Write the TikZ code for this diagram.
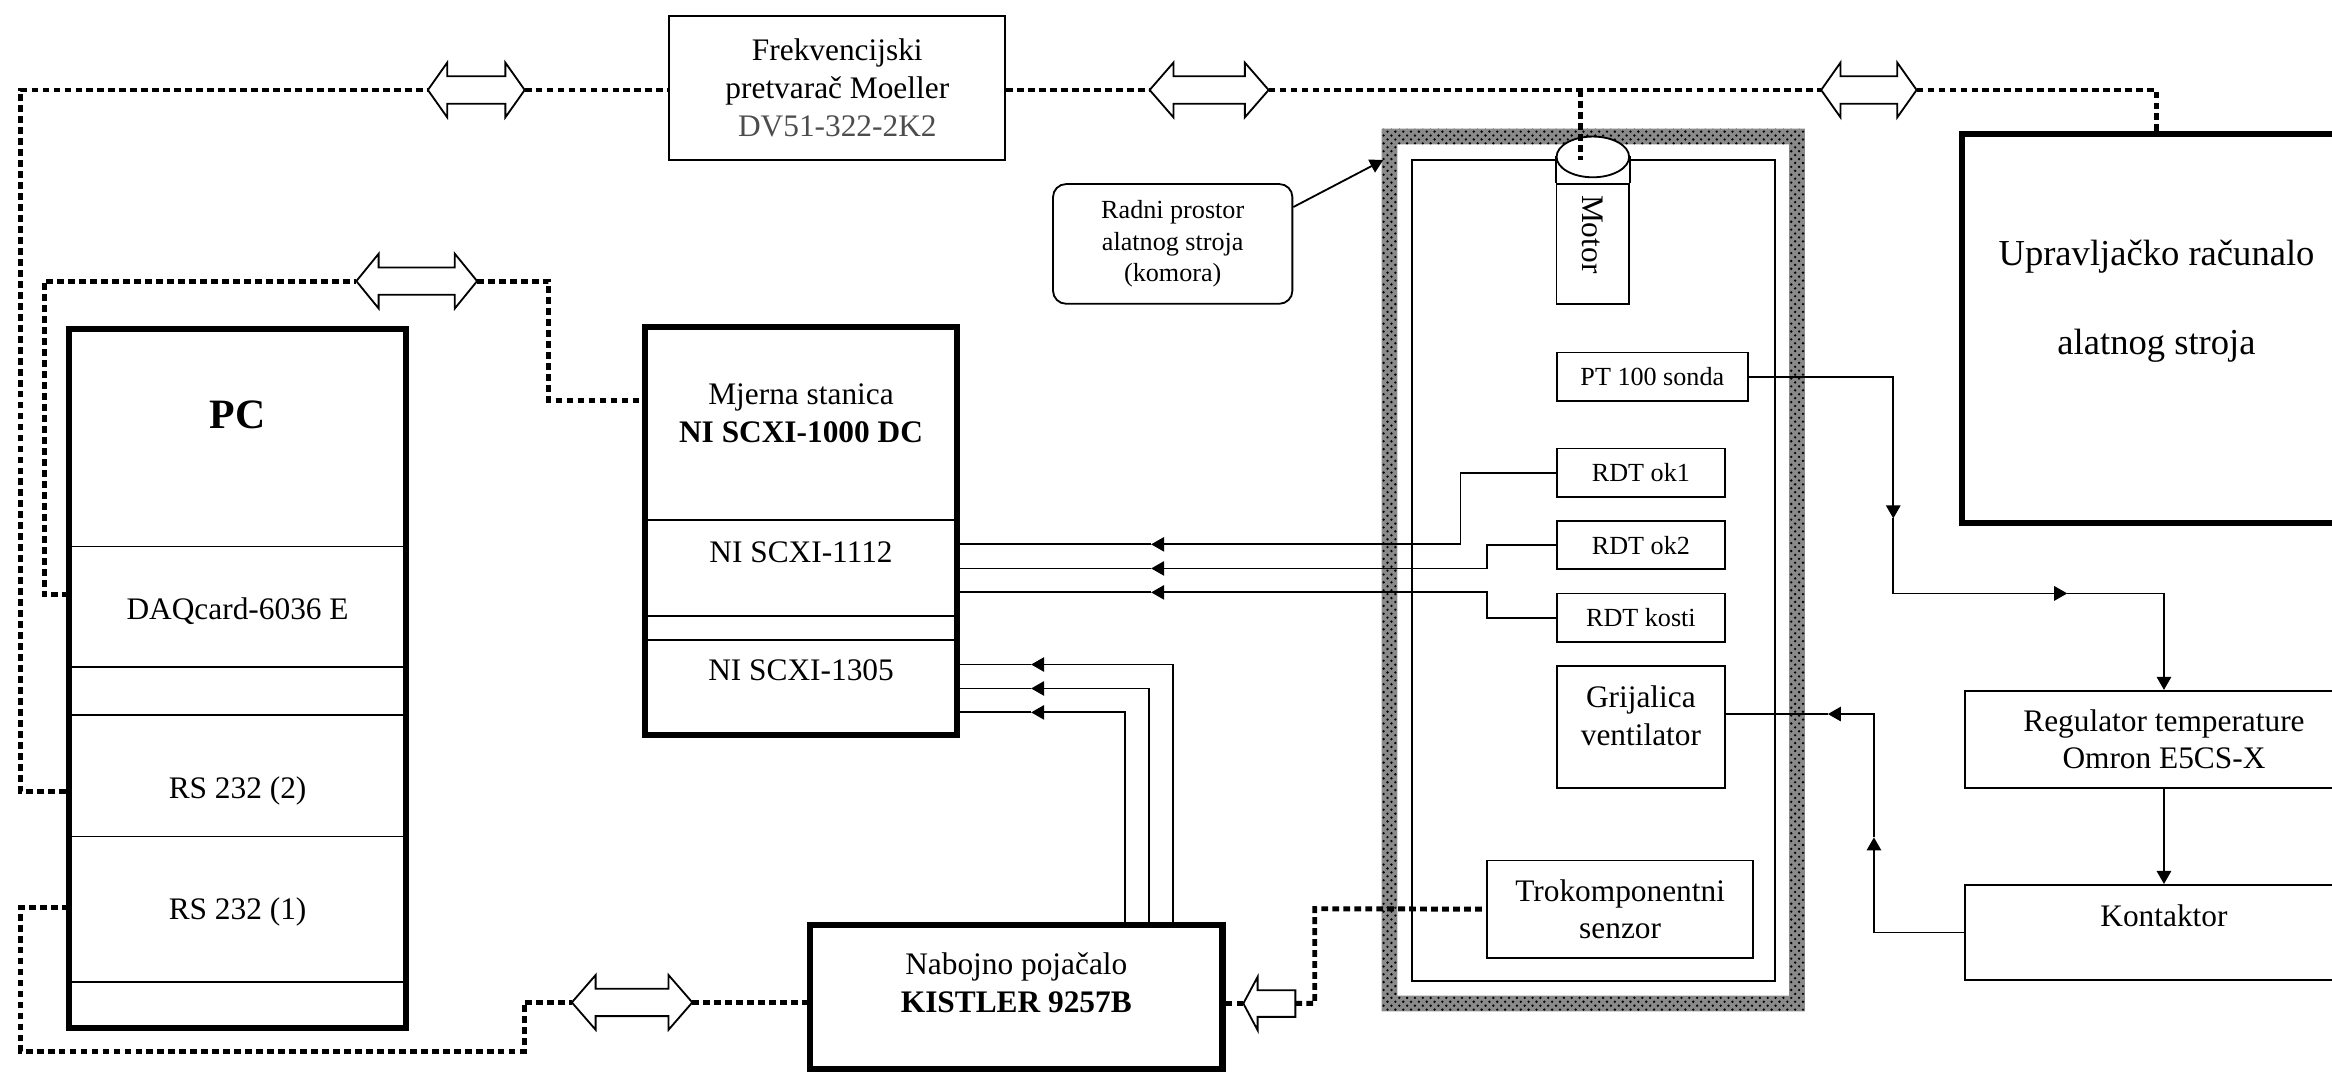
\documentclass[tikz,border=0pt]{standalone}
\usepackage{fontspec}
\setmainfont{Liberation Serif}
\usepackage{xcolor}
\usetikzlibrary{arrows.meta, patterns}
\definecolor{hatchgray}{HTML}{8A8A8A}
\definecolor{partgray}{HTML}{4D4D4D}

\newcommand{\fsmall}{\fontsize{10}{12}\selectfont}
\newcommand{\fnorm}{\fontsize{12}{14.4}\selectfont}
\newcommand{\fbig}{\fontsize{14}{16.8}\selectfont}
\newcommand{\fhuge}{\fontsize{16}{19.2}\selectfont}

\tikzset{
  thinline/.style={line width=0.7pt},
  box/.style={draw, line width=0.7pt, inner sep=0pt},
  thickbox/.style={draw, line width=2.4pt, inner sep=0pt},
  bus/.style={line width=1.9pt, dash pattern=on 2.6pt off 1.6pt},
  wire/.style={line width=0.7pt},
  hollow/.style={draw, fill=white, line width=0.7pt, line join=miter},
}

% hollow double arrow on a bus: name, centre x, centre y, half length, head length
\newcommand{\dblarrow}[5]{%
  \draw[hollow] (#2-#4,#3) -- (#2-#4+#5,#3-18.4) -- (#2-#4+#5,#3-9.2)
    -- (#2+#4-#5,#3-9.2) -- (#2+#4-#5,#3-18.4) -- (#2+#4,#3)
    -- (#2+#4-#5,#3+18.4) -- (#2+#4-#5,#3+9.2) -- (#2-#4+#5,#3+9.2)
    -- (#2-#4+#5,#3+18.4) -- cycle;
  \coordinate (#1-w) at (#2-#4,#3);
  \coordinate (#1-e) at (#2+#4,#3);
}

\begin{document}
\begin{tikzpicture}[x=0.02cm, y=-0.02cm, >={Triangle[length=5pt,width=5.5pt]}]
  \useasboundingbox (0,0) rectangle (1568,721);
  \clip (0,0) rectangle (1568,721);

  % machine chamber
  \fill[hatchgray, even odd rule] (929,86.5) rectangle (1213.5,680) (939.5,97) rectangle (1203,669.5);
  \fill[pattern=crosshatch dots, pattern color=black, even odd rule]
    (929,86.5) rectangle (1213.5,680) (939.5,97) rectangle (1203,669.5);
  \draw[thinline] (949.6,107.6) rectangle (1193.5,659.5);

  % boxes
  \node[box, font=\fnorm, align=center, minimum width=4.52cm, minimum height=1.94cm] (frek) at (563,59)
    {Frekvencijski\\pretvarač Moeller\\{\color{partgray}DV51-322-2K2}};
  \node[box, rounded corners=5pt, font=\fsmall, align=center, minimum width=3.22cm, minimum height=1.61cm] (radni) at (788.5,164)
    {Radni prostor\\alatnog stroja\\(komora)};

  \node[thickbox, minimum width=4.53cm, minimum height=9.4cm] (pc) at (159.75,456) {};
  \foreach \yy in {367.4,448.4,481,562.4,660}
    \draw[thinline] (pc.west |- 0,\yy) -- (pc.east |- 0,\yy);
  \node[font=\fhuge\bfseries] (pclbl) at (159.75,279) {PC};
  \node[font=\fnorm] (daq) at (159.75,411) {DAQcard-6036 E};
  \node[font=\fnorm] (rs2) at (159.75,532) {RS 232 (2)};
  \node[font=\fnorm] (rs1) at (159.75,613) {RS 232 (1)};

  \node[thickbox, minimum width=4.204cm, minimum height=5.494cm] (mjerna) at (538.6,357) {};
  \foreach \yy in {349.7,414.2,430.4}
    \draw[thinline] (mjerna.west |- 0,\yy) -- (mjerna.east |- 0,\yy);
  \node[font=\fnorm, align=center] (mjlbl) at (538.6,278) {Mjerna stanica\\\textbf{NI SCXI-1000 DC}};
  \node[font=\fnorm] (scxa) at (538.6,371) {NI SCXI-1112};
  \node[font=\fnorm] (scxb) at (538.6,450.6) {NI SCXI-1305};

  \node[thickbox, minimum width=5.546cm, minimum height=1.938cm] (kistler) at (683.35,670.55) {};
  \node[font=\fnorm, align=center] (kislbl) at (683.35,660.75) {Nabojno pojačalo\\\textbf{KISTLER 9257B}};

  \node[thickbox, minimum width=5.24cm, minimum height=5.23cm] (upr) at (1450,220.75) {};
  \node[font=\fbig, align=center] (uprlbl) at (1450,202.5) {Upravljačko računalo\\[17pt]alatnog stroja};

  \node[box, font=\fnorm, align=center, minimum width=5.36cm, minimum height=1.306cm] (reg) at (1455,497.15)
    {Regulator temperature\\Omron E5CS-X};
  \node[box, minimum width=5.36cm, minimum height=1.28cm] (kont) at (1455,627) {};
  \node[font=\fnorm] (kontlbl) at (1455,616) {Kontaktor};

  \node[box, font=\fsmall, minimum width=2.574cm, minimum height=0.654cm] (pt) at (1111,253.35) {PT 100 sonda};
  \node[box, font=\fsmall, minimum width=2.268cm, minimum height=0.65cm] (rdt1) at (1103.3,317.75) {RDT ok1};
  \node[box, font=\fsmall, minimum width=2.268cm, minimum height=0.65cm] (rdt2) at (1103.3,366.5) {RDT ok2};
  \node[box, font=\fsmall, minimum width=2.268cm, minimum height=0.65cm] (rdt3) at (1103.3,415.35) {RDT kosti};
  \node[box, minimum width=2.268cm, minimum height=1.634cm] (grij) at (1103.3,488.85) {};
  \node[font=\fnorm, align=center] (grijlbl) at (1103.3,481.4) {Grijalica\\ventilator};
  \node[box, font=\fnorm, align=center, minimum width=3.574cm, minimum height=1.308cm] (tro) at (1089.35,611.3)
    {Trokomponentni\\senzor};

  % motor
  \node[box, minimum width=0.976cm, minimum height=1.614cm] (motor) at (1071,164) {};
  \draw[thinline] (motor.north west) -- ++(0,-18.2);
  \draw[thinline] (motor.north east) -- ++(0,-18.2);
  \draw[thinline, fill=white] (1071,105.5) ellipse [x radius=0.488cm, y radius=0.274cm];
  \node[font=\fnorm, rotate=-90] (motorlbl) at (1071,157.5) {Motor};

  % hollow arrows
  \dblarrow{a1}{320.25}{60.5}{32.55}{13}
  \dblarrow{a2}{813}{60.5}{40}{16}
  \dblarrow{a3}{1256.6}{60.5}{32.1}{13}
  \dblarrow{a4}{280.2}{189}{40.6}{15}
  \dblarrow{a5}{425}{674}{40.5}{16}
  \draw[hollow] (836,674.7) -- (845.6,656.8) -- (845.6,665.8) -- (871,665.8)
    -- (871,683.7) -- (845.6,683.7) -- (845.6,692.7) -- cycle;
  \coordinate (a6-w) at (836,674.7);
  \coordinate (a6-e) at (871,674.7);

  % bus lines
  \coordinate (daqport) at (46.5,400);
  \coordinate (rs1port) at (46.5,610);
  \coordinate (mjport) at (433.5,269);
  \coordinate (tap) at (1063,60.5);
  \coordinate (shaft) at (1063,107.6);
  \draw[bus] (pc.west |- rs2) -| (14,60.5) -- (a1-w);
  \draw[bus] (a1-e) -- (frek.west |- a1-e);
  \draw[bus] (frek.east |- a2-w) -- (a2-w);
  \draw[bus] (a2-e) -- (a3-w);
  \draw[bus] (a3-e) -| (upr.north);
  \draw[bus] (tap) -- (shaft);
  \draw[bus] (daqport) -| (30,189) -- (a4-w);
  \draw[bus] (a4-e) -| (369,269) -- (mjport);
  \draw[bus] (rs1port) -| (14,707) -| (352.5,674) -- (a5-w);
  \draw[bus] (a5-e) -- (kistler.west |- a5-e);
  \draw[bus] (kistler.east |- a6-w) -- (a6-w);
  \draw[bus] (a6-e) -| (884,611) -- (tro.west);

  % signal wires
  \coordinate (m1) at (774,366);
  \coordinate (m2) at (774,382.2);
  \coordinate (m3) at (774,398.3);
  \draw[wire,->] (rdt1.west) -| (982,366) -- (m1);
  \draw[wire,->] (rdt2.west) -| (1000,382.2) -- (m2);
  \draw[wire,->] (rdt3.west) -| (1000,398.3) -- (m3);
  \foreach \m in {m1,m2,m3}
    \draw[wire] (\m) -- (mjerna.east |- \m);

  \coordinate (n1) at (693.3,446.8);
  \coordinate (n2) at (693.3,462.9);
  \coordinate (n3) at (693.3,479);
  \draw[wire,->] (kistler.north -| 788.7,0) |- (n1);
  \draw[wire,->] (kistler.north -| 772.5,0) |- (n2);
  \draw[wire,->] (kistler.north -| 756.3,0) |- (n3);
  \foreach \n in {n1,n2,n3}
    \draw[wire] (\n) -- (mjerna.east |- \n);

  \coordinate (t1) at (1273,348.6);
  \coordinate (t2) at (1390,399);
  \draw[wire,->] (pt.east) -| (t1);
  \draw[wire,->] (t1) |- (t2);
  \draw[wire,->] (t2) -| (reg.north);
  \draw[wire,->] (reg.south) -- (kont.north);

  \coordinate (h1) at (1260,563);
  \coordinate (h2) at (1229,480.1);
  \draw[wire,->] (kont.west) -| (h1);
  \draw[wire,->] (h1) |- (h2);
  \draw[wire] (h2) -- (grij.east |- h2);

  \coordinate (frametip) at (930,107.6);
  \draw[wire,->] (radni.17) -- (frametip);
\end{tikzpicture}
\end{document}
